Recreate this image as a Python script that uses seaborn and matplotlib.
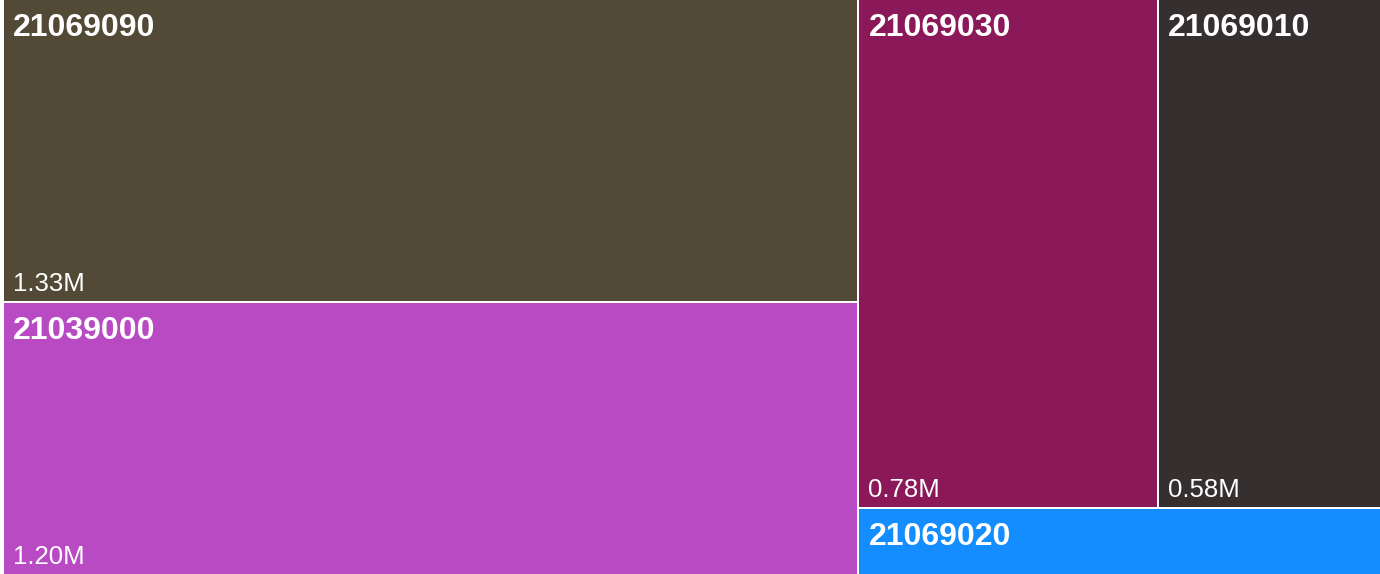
import matplotlib
matplotlib.use("Agg")
import matplotlib.pyplot as plt
from matplotlib.patches import Rectangle
import seaborn as sns

# tiles of the treemap (values in millions)
codes = ["21069090", "21039000", "21069030", "21069010", "21069020"]
values = [1.3254, 1.1954, 0.78, 0.58, 0.18]
colors = ["#524A36", "#B84BC4", "#8B1859", "#352F30", "#138DFF"]

sns.set_theme(style="white")
plt.rcParams["font.family"] = ["Liberation Sans", "DejaVu Sans"]

PHI = (1 + 5 ** 0.5) / 2


# squarified layout, same rule as d3.treemapSquarify (golden ratio)
def squarify(vals, x0, y0, x1, y1, ratio=PHI):
    rects = [None] * len(vals)
    total = sum(vals)
    i0 = 0
    n = len(vals)
    while i0 < n:
        dx, dy = x1 - x0, y1 - y0
        i1 = i0 + 1
        s = vals[i0]
        vmin = vmax = s
        alpha = max(dy / dx, dx / dy) / (total * ratio)
        beta = s * s * alpha
        best = max(vmax / beta, beta / vmin)
        while i1 < n:
            v = vals[i1]
            s2 = s + v
            mn, mx = min(vmin, v), max(vmax, v)
            beta = s2 * s2 * alpha
            r = max(mx / beta, beta / mn)
            if r > best:
                break
            s, vmin, vmax, best = s2, mn, mx, r
            i1 += 1
        if dx < dy:
            # row across the top
            h = dy * s / total
            cx = x0
            for i in range(i0, i1):
                w = dx * vals[i] / s
                rects[i] = (cx, y0, w, h)
                cx += w
            y0 += h
        else:
            # column on the left
            w = dx * s / total
            cy = y0
            for i in range(i0, i1):
                h = dy * vals[i] / s
                rects[i] = (x0, cy, w, h)
                cy += h
            x0 += w
        total -= s
        i0 = i1
    return rects


W, H = 1378, 576
gap = 2
rects = squarify(values, 0, 0, W, H)

fig = plt.figure(figsize=(13.8, 5.74), dpi=100)
ax = fig.add_axes([4 / 1380, (574 - H) / 574, W / 1380, H / 574])
ax.set_xlim(0, W)
ax.set_ylim(H, 0)
ax.axis("off")

for code, val, col, (x, y, w, h) in zip(codes, values, colors, rects):
    ax.add_patch(Rectangle((x, y), w - gap, h - gap, facecolor=col, edgecolor="none"))
    ax.text(x + 9, y + 13, code, color="white", fontsize=23, fontweight="bold",
            ha="left", va="top")
    if h > 100:
        ax.text(x + 9, y + h - gap - 10, f"{val:.2f}M", color="white", fontsize=18.5,
                ha="left", va="baseline")

fig.savefig("out.png", dpi=100, facecolor="white")
